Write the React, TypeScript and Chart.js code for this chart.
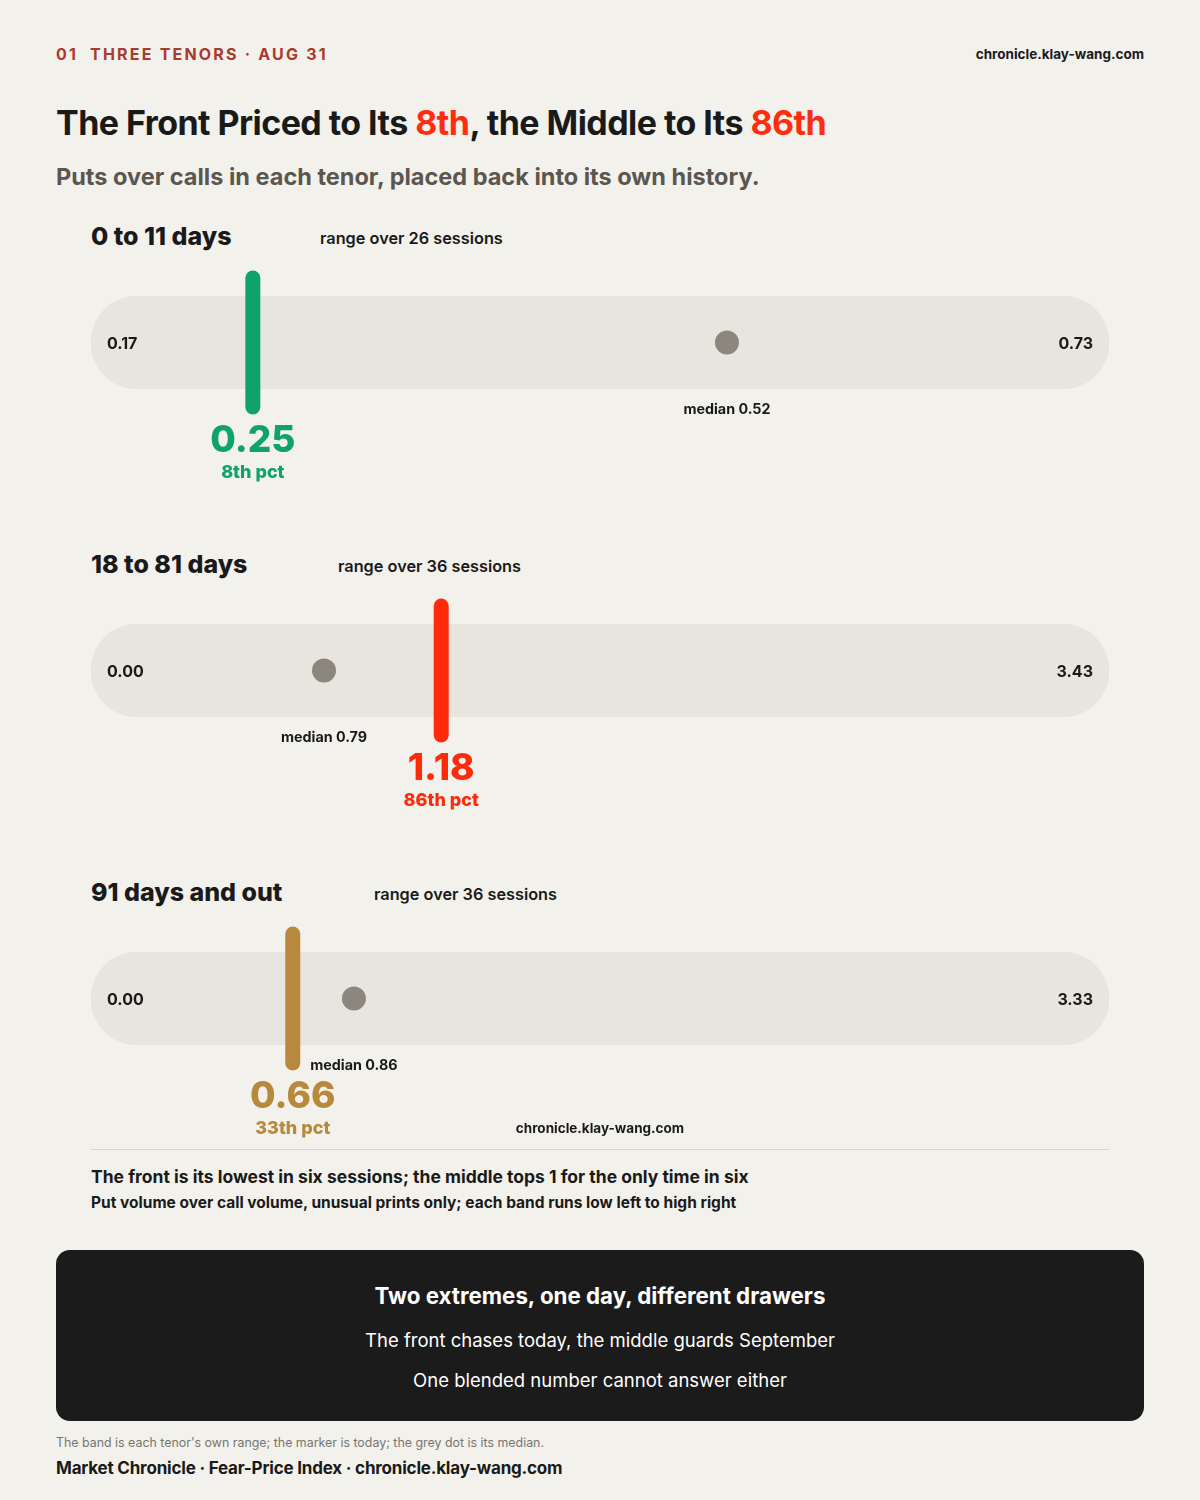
import React, { useEffect, useRef } from "react";
import { Chart, registerables } from "chart.js";

Chart.register(...registerables);

// ---- data ----
const tenors = ["0 to 11 days", "18 to 81 days", "91 days and out"];
const sessions = [26, 36, 36];
const lows = [0.1651, 0.0, 0.0];
const highs = [0.73, 3.43, 3.33];
const todays = [0.2549, 1.18, 0.66];
const medians = [0.518, 0.7851, 0.86];
const percentiles = [8, 86, 33];
const markerColors = ["#0FA36B", "#FF2A0A", "#B8893D"];

const BG = "#F3F1EC";
const BAND = "#E8E5DE";
const DOT = "#8C877D";
const INK = "#1A1A1A";
const FONT = "Inter, 'Noto Sans', sans-serif";

const SECTION_STEP = 328;
const CANVAS_W = 1018;
const CANVAS_H = 230;
const BAND_TOP = 36;
const BAND_H = 93;

function Text(props: {
  x: number;
  y: number;
  size: number;
  weight?: number;
  color?: string;
  align?: "left" | "center" | "right";
  ls?: number;
  children: React.ReactNode;
}) {
  const { x, y, size, weight = 400, color = INK, align = "left", ls = 0 } = props;
  const lh = Math.round(size * 1.4);
  const style: React.CSSProperties = {
    position: "absolute",
    top: y - lh / 2,
    lineHeight: lh + "px",
    fontSize: size,
    fontWeight: weight,
    color,
    letterSpacing: ls,
    whiteSpace: "pre",
    fontFamily: FONT,
  };
  if (align === "left") style.left = x;
  else if (align === "right") style.right = 1200 - x;
  else {
    style.left = x - 500;
    style.width = 1000;
    style.textAlign = "center";
  }
  return <div style={style}>{props.children}</div>;
}

function BandChart({ i }: { i: number }) {
  const ref = useRef<HTMLCanvasElement | null>(null);
  useEffect(() => {
    if (!ref.current) return;
    const color = markerColors[i];
    const marksPlugin = {
      id: "tenorMarks",
      afterDatasetsDraw(chart: any) {
        const { ctx, chartArea, scales } = chart;
        const cy = (chartArea.top + chartArea.bottom) / 2;
        const xLow = scales.x.getPixelForValue(lows[i]);
        const xHigh = scales.x.getPixelForValue(highs[i]);
        const xMed = scales.x.getPixelForValue(medians[i]);
        const xToday = scales.x.getPixelForValue(todays[i]);
        ctx.save();
        // range end labels
        ctx.fillStyle = INK;
        ctx.font = `700 16px ${FONT}`;
        ctx.textBaseline = "alphabetic";
        ctx.textAlign = "left";
        ctx.fillText(lows[i].toFixed(2), xLow + 16, cy + 6);
        ctx.textAlign = "right";
        ctx.fillText(highs[i].toFixed(2), xHigh - 16, cy + 6);
        // median label
        ctx.textAlign = "center";
        ctx.font = `700 14.3px ${FONT}`;
        ctx.fillText(`median ${medians[i].toFixed(2)}`, xMed, cy + 66.5 + 5);
        // today marker
        ctx.strokeStyle = color;
        ctx.lineWidth = 15;
        ctx.lineCap = "round";
        ctx.beginPath();
        ctx.moveTo(xToday, cy - 64.5);
        ctx.lineTo(xToday, cy + 64.5);
        ctx.stroke();
        // today value
        ctx.fillStyle = color;
        ctx.font = `800 37px ${FONT}`;
        ctx.fillText(todays[i].toFixed(2), xToday, cy + 95.5 + 13.5);
        ctx.font = `800 18px ${FONT}`;
        ctx.fillText(`${percentiles[i]}th pct`, xToday, cy + 128.5 + 6.5);
        ctx.restore();
      },
    };
    const chart = new Chart(ref.current, {
      type: "bar",
      data: {
        labels: ["range"],
        datasets: [
          {
            type: "line",
            data: [{ x: medians[i], y: "range" }],
            showLine: false,
            pointRadius: 12,
            pointHoverRadius: 12,
            pointBackgroundColor: DOT,
            pointBorderWidth: 0,
            order: 0,
          } as any,
          {
            type: "bar",
            data: [[lows[i], highs[i]]],
            backgroundColor: BAND,
            borderWidth: 0,
            borderRadius: BAND_H / 2,
            borderSkipped: false,
            barPercentage: 1,
            categoryPercentage: 1,
            order: 1,
          } as any,
        ],
      },
      options: {
        indexAxis: "y",
        animation: false,
        responsive: false,
        events: [],
        layout: {
          autoPadding: false,
          padding: { top: BAND_TOP, bottom: CANVAS_H - BAND_TOP - BAND_H, left: 0, right: 0 },
        },
        plugins: { legend: { display: false }, tooltip: { enabled: false } },
        scales: {
          x: { type: "linear", min: lows[i], max: highs[i], display: false },
          y: { type: "category", display: false },
        },
      },
      plugins: [marksPlugin],
    } as any);
    return () => chart.destroy();
  }, [i]);
  return (
    <canvas
      ref={ref}
      width={CANVAS_W}
      height={CANVAS_H}
      style={{ position: "absolute", left: 91, top: 260 + SECTION_STEP * i, width: CANVAS_W, height: CANVAS_H }}
    />
  );
}

export default function App() {
  return (
    <div
      style={{
        position: "absolute",
        left: 0,
        top: 0,
        width: 1200,
        height: 1500,
        background: BG,
        fontFamily: FONT,
        overflow: "hidden",
      }}
    >
      <Text x={56} y={54} size={16} weight={700} color="#A83A2E" ls={2.2}>
        {"01  THREE TENORS · AUG 31"}
      </Text>
      <Text x={1144} y={54} size={13.5} weight={700} align="right">
        chronicle.klay-wang.com
      </Text>
      <Text x={56} y={123} size={34} weight={700} ls={-0.55}>
        {"The Front Priced to Its "}
        <span style={{ color: "#FF2D0F" }}>8th</span>
        {", the Middle to Its "}
        <span style={{ color: "#FF2D0F" }}>86th</span>
      </Text>
      <Text x={56} y={176} size={23.5} weight={700} color="#5B5750">
        Puts over calls in each tenor, placed back into its own history.
      </Text>

      {tenors.map((t, i) => (
        <React.Fragment key={t}>
          <Text x={91} y={236 + SECTION_STEP * i} size={25} weight={800}>
            {t}
          </Text>
          <Text x={104 + 18 * t.length} y={238 + SECTION_STEP * i} size={16.3} weight={600}>
            {`range over ${sessions[i]} sessions`}
          </Text>
          <BandChart i={i} />
        </React.Fragment>
      ))}

      <Text x={600} y={1128} size={13.5} weight={700} align="center">
        chronicle.klay-wang.com
      </Text>
      <div style={{ position: "absolute", left: 91, top: 1149, width: 1018, height: 1, background: "#D8D4CB" }} />
      <Text x={91} y={1176} size={17.5} weight={700}>
        The front is its lowest in six sessions; the middle tops 1 for the only time in six
      </Text>
      <Text x={91} y={1203} size={15.5} weight={700}>
        Put volume over call volume, unusual prints only; each band runs low left to high right
      </Text>

      <div
        style={{
          position: "absolute",
          left: 56,
          top: 1250,
          width: 1088,
          height: 171,
          background: "#1B1B1B",
          borderRadius: 14,
        }}
      />
      <Text x={600} y={1295} size={22.3} weight={700} color="#FFFFFF" align="center">
        Two extremes, one day, different drawers
      </Text>
      <Text x={600} y={1340} size={18.5} weight={400} color="#FFFFFF" align="center">
        The front chases today, the middle guards September
      </Text>
      <Text x={600} y={1380} size={18.5} weight={400} color="#FFFFFF" align="center">
        One blended number cannot answer either
      </Text>

      <Text x={56} y={1442} size={12.4} weight={400} color="#777570">
        The band is each tenor's own range; the marker is today; the grey dot is its median.
      </Text>
      <Text x={56} y={1468} size={17} weight={700} ls={-0.2}>
        Market Chronicle · Fear-Price Index · chronicle.klay-wang.com
      </Text>
    </div>
  );
}
